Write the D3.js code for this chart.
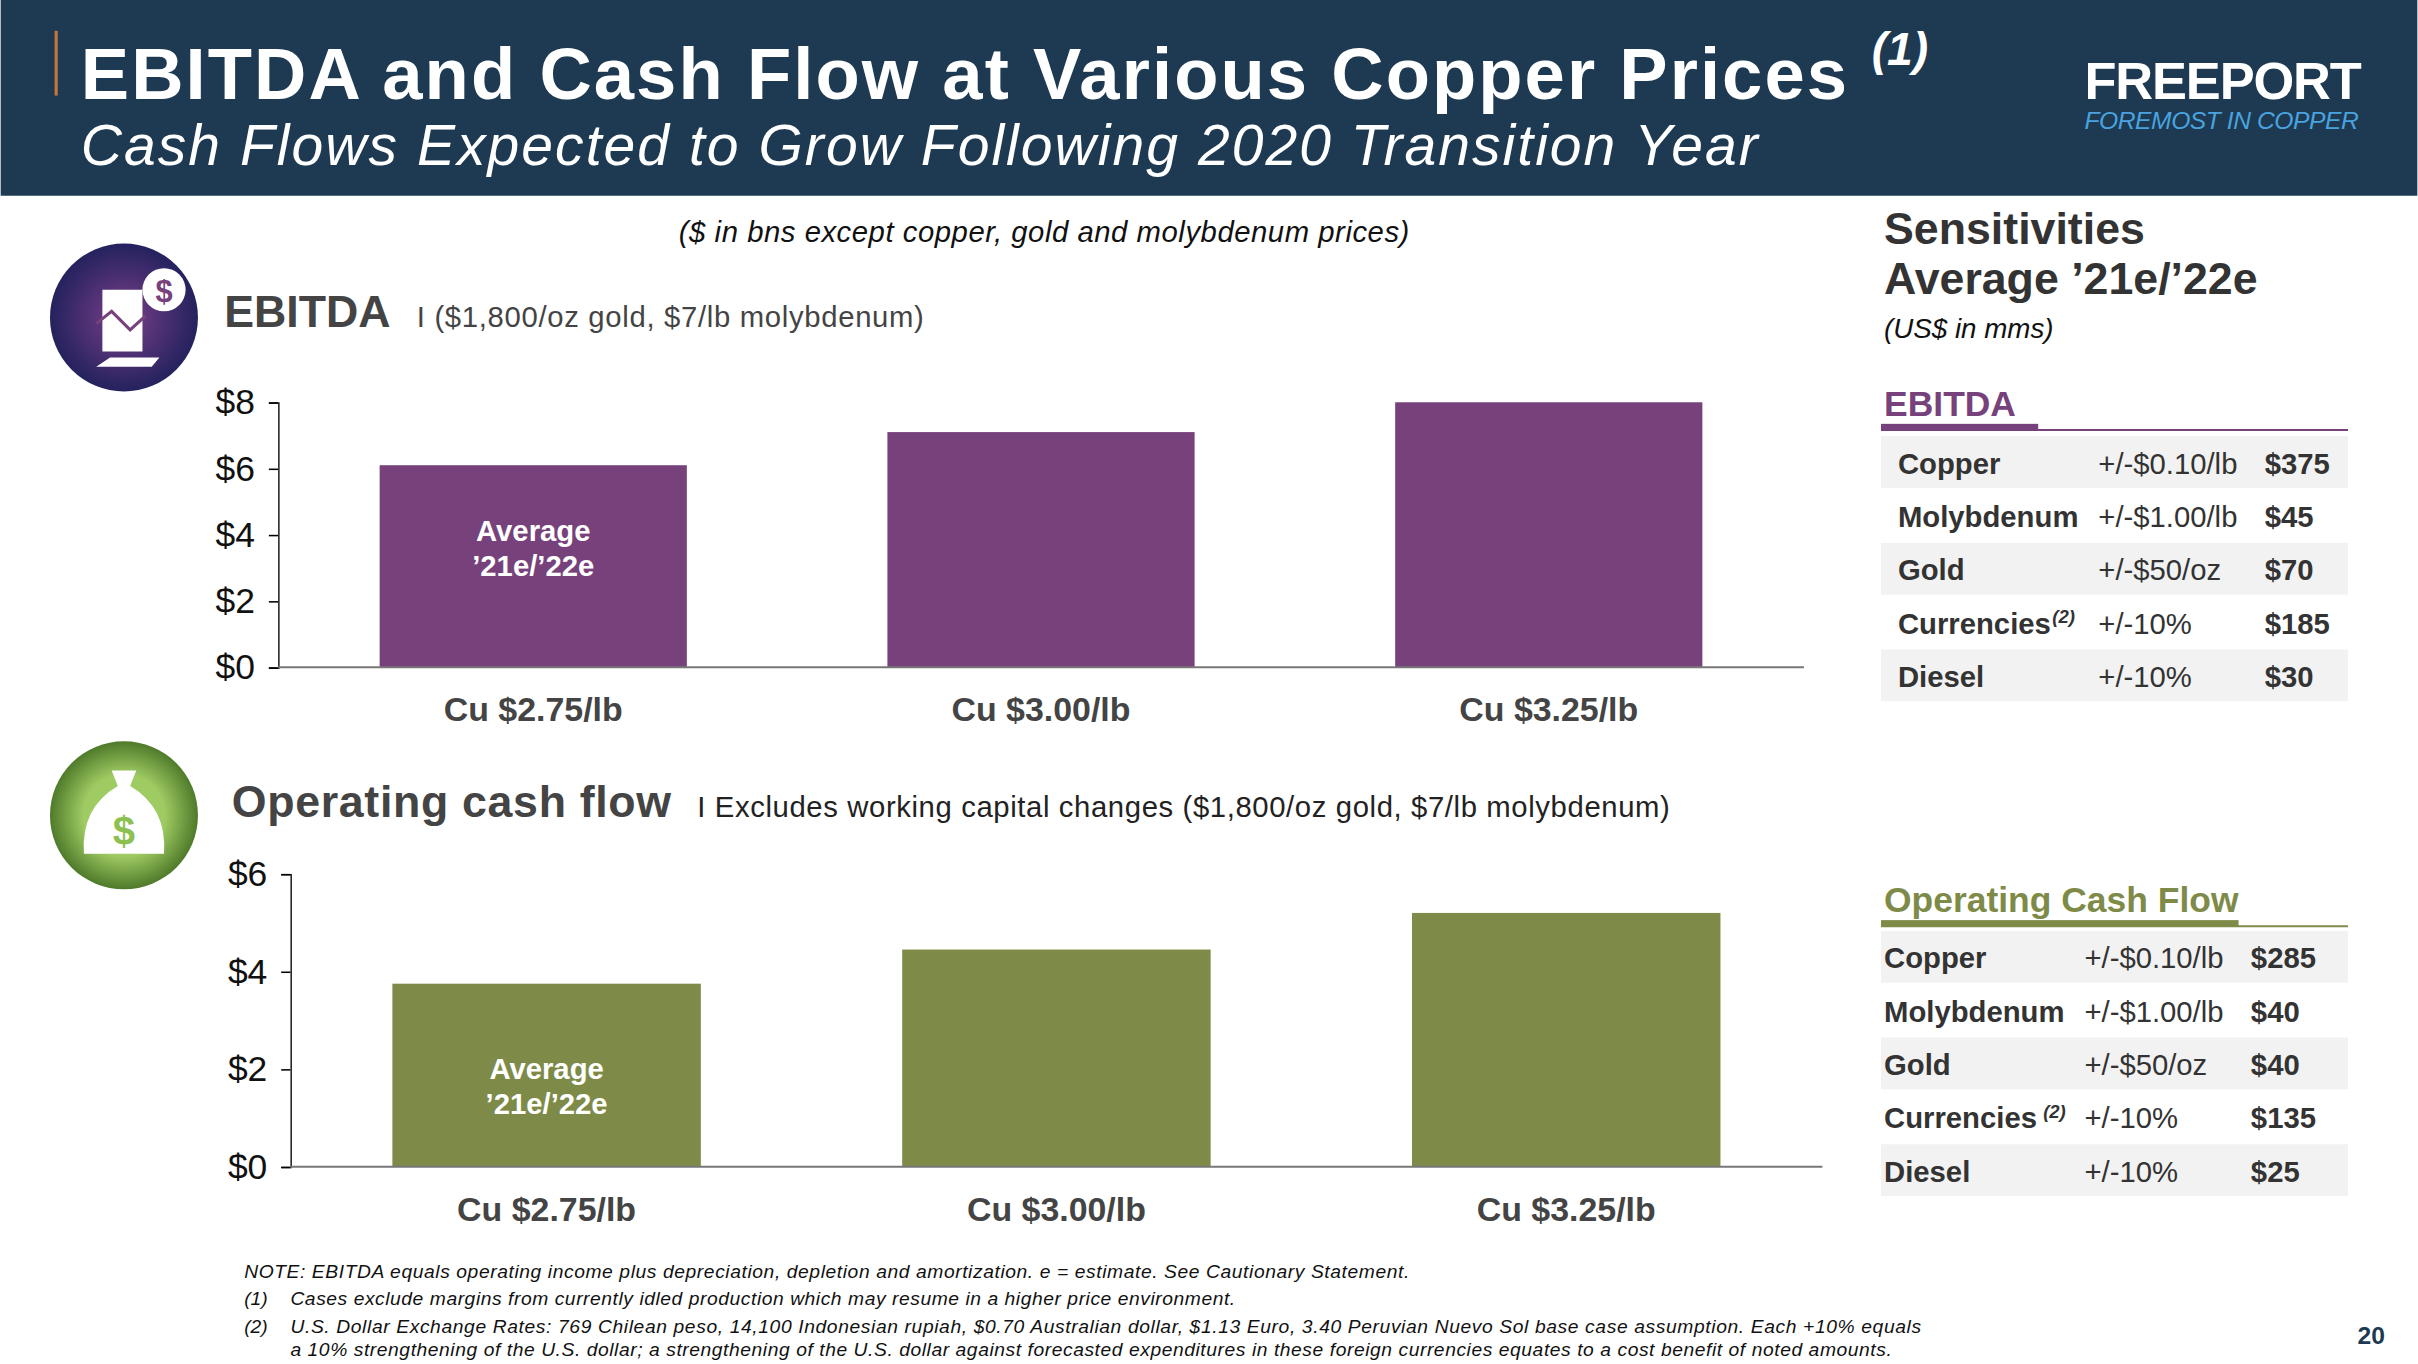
<!DOCTYPE html>
<html><head><meta charset="utf-8">
<script src="https://cdn.jsdelivr.net/npm/d3@7"></script>
<style>
body{margin:0;background:#fff;}
svg{display:block;font-family:"Liberation Sans",Arial,sans-serif;}
</style></head>
<body>
<svg id="chart" width="2418" height="1364" viewBox="0 0 1568 885"></svg>
<script>
// chart data
const categories = ["Cu $2.75/lb", "Cu $3.00/lb", "Cu $3.25/lb"];
const ebitdaValues = [6.1, 7.1, 8.0];
const ocfValues = [3.75, 4.45, 5.2];
const ebitdaTicks = [0, 2, 4, 6, 8];
const ocfTicks = [0, 2, 4, 6];

const ebitdaSens = [
  ["Copper", "+/-$0.10/lb", "$375"],
  ["Molybdenum", "+/-$1.00/lb", "$45"],
  ["Gold", "+/-$50/oz", "$70"],
  ["Currencies", "+/-10%", "$185"],
  ["Diesel", "+/-10%", "$30"]
];
const ocfSens = [
  ["Copper", "+/-$0.10/lb", "$285"],
  ["Molybdenum", "+/-$1.00/lb", "$40"],
  ["Gold", "+/-$50/oz", "$40"],
  ["Currencies", "+/-10%", "$135"],
  ["Diesel", "+/-10%", "$25"]
];

const svg = d3.select("#chart");
const purple = "#77427b", green = "#7e8b48", dark = "#1d3a52";

// header
svg.append("rect").attr("width", 1568).attr("height", 127).attr("fill", dark);
svg.append("rect").attr("x", 35).attr("y", 20).attr("width", 2).attr("height", 42).attr("fill", "#c8773a");
svg.append("text").attr("x", 52).attr("y", 64).attr("fill", "#fff").attr("font-size", 47).attr("font-weight", "bold")
  .attr("textLength", 1146).text("EBITDA and Cash Flow at Various Copper Prices");
svg.append("text").attr("x", 1214).attr("y", 42).attr("fill", "#fff").attr("font-size", 30).attr("font-weight", "bold").attr("font-style", "italic").text("(1)");
svg.append("text").attr("x", 52).attr("y", 107).attr("fill", "#fff").attr("font-size", 37).attr("font-style", "italic")
  .attr("textLength", 1088).text("Cash Flows Expected to Grow Following 2020 Transition Year");
svg.append("text").attr("x", 1352).attr("y", 64).attr("fill", "#fff").attr("font-size", 34).attr("font-weight", "bold")
  .attr("textLength", 180).text("FREEPORT");
svg.append("text").attr("x", 1352).attr("y", 84).attr("fill", "#4aa3df").attr("font-size", 16).attr("font-style", "italic")
  .attr("textLength", 178).text("FOREMOST IN COPPER");

svg.append("text").attr("x", 677).attr("y", 157).attr("text-anchor", "middle").attr("font-size", 19).attr("font-style", "italic")
  .attr("fill", "#111").attr("textLength", 474).text("($ in bns except copper, gold and molybdenum prices)");

// icons
const defs = svg.append("defs");
const g1 = defs.append("radialGradient").attr("id", "gp");
g1.append("stop").attr("offset", "0%").attr("stop-color", "#7a3f8a");
g1.append("stop").attr("offset", "100%").attr("stop-color", "#24225e");
const g2 = defs.append("radialGradient").attr("id", "gg");
g2.append("stop").attr("offset", "55%").attr("stop-color", "#9fcb63");
g2.append("stop").attr("offset", "100%").attr("stop-color", "#4f7a2a");
svg.append("circle").attr("cx", 80).attr("cy", 206).attr("r", 48).attr("fill", "url(#gp)");
svg.append("path").attr("d", "M66 188 h26 v40 h-26 z M62 238 h36 l5 -6 h-32 z").attr("fill", "#fff");
svg.append("polyline").attr("points", "62,210 72,202 84,214 94,205").attr("fill", "none").attr("stroke", purple).attr("stroke-width", 2);
svg.append("circle").attr("cx", 106).attr("cy", 188).attr("r", 14).attr("fill", "#fff");
svg.append("text").attr("x", 106).attr("y", 196).attr("text-anchor", "middle").attr("font-size", 20).attr("font-weight", "bold").attr("fill", purple).text("$");
svg.append("circle").attr("cx", 80).attr("cy", 529).attr("r", 48).attr("fill", "url(#gg)");
svg.append("path").attr("d", "M72 500 h16 l-4 10 q24 14 22 44 h-52 q-2 -30 22 -44 z").attr("fill", "#fff");
svg.append("text").attr("x", 80).attr("y", 548).attr("text-anchor", "middle").attr("font-size", 26).attr("font-weight", "bold").attr("fill", "#8cc152").text("$");

// section titles
svg.append("text").attr("x", 145).attr("y", 212).attr("font-size", 29).attr("font-weight", "bold").attr("fill", "#444").text("EBITDA");
svg.append("text").attr("x", 270).attr("y", 212).attr("font-size", 19).attr("fill", "#444").attr("textLength", 329).text("I ($1,800/oz gold, $7/lb molybdenum)");
svg.append("text").attr("x", 150).attr("y", 530).attr("font-size", 29).attr("font-weight", "bold").attr("fill", "#444").attr("textLength", 285).text("Operating cash flow");
svg.append("text").attr("x", 452).attr("y", 530).attr("font-size", 19).attr("fill", "#222").attr("textLength", 631).text("I Excludes working capital changes ($1,800/oz gold, $7/lb molybdenum)");

function barChart(vals, ticks, left, right, top, bottom, color, catY) {
  const x = d3.scaleBand().domain(categories).range([left, right]).paddingInner(0.395).paddingOuter(0.2);
  const y = d3.scaleLinear().domain([0, d3.max(ticks)]).range([bottom, top]);
  const g = svg.append("g");
  g.selectAll("rect.bar").data(vals).enter().append("rect").attr("class", "bar")
    .attr("x", (d, i) => x(categories[i])).attr("width", x.bandwidth())
    .attr("y", d => y(d)).attr("height", d => bottom - y(d)).attr("fill", color);
  const ax = g.append("g").attr("transform", `translate(${left},0)`)
    .call(d3.axisLeft(y).tickValues(ticks).tickFormat(d => "$" + d).tickSizeOuter(0).tickSize(6));
  ax.selectAll("text").attr("font-size", 23).attr("fill", "#111").attr("dx", -6).attr("font-family", "Liberation Sans, Arial");
  ax.select(".domain").attr("stroke", "#222");
  g.append("line").attr("x1", left).attr("x2", right).attr("y1", bottom).attr("y2", bottom).attr("stroke", "#777").attr("stroke-width", 1.3);
  g.selectAll("text.cat").data(categories).enter().append("text").attr("class", "cat")
    .attr("x", d => x(d) + x.bandwidth() / 2).attr("y", catY).attr("text-anchor", "middle")
    .attr("font-size", 22).attr("font-weight", "bold").attr("fill", "#444").text(d => d);
  const cx = x(categories[0]) + x.bandwidth() / 2;
  return {cx, y};
}
const e = barChart(ebitdaValues, ebitdaTicks, 180, 1170, 261, 433, purple, 468);
svg.append("text").attr("x", e.cx).attr("y", 351).attr("text-anchor", "middle").attr("font-size", 19).attr("font-weight", "bold").attr("fill", "#fff").text("Average");
svg.append("text").attr("x", e.cx).attr("y", 374).attr("text-anchor", "middle").attr("font-size", 19).attr("font-weight", "bold").attr("fill", "#fff").text("’21e/’22e");
const o = barChart(ocfValues, ocfTicks, 188, 1182, 567, 757, green, 792);
svg.append("text").attr("x", o.cx).attr("y", 700).attr("text-anchor", "middle").attr("font-size", 19).attr("font-weight", "bold").attr("fill", "#fff").text("Average");
svg.append("text").attr("x", o.cx).attr("y", 723).attr("text-anchor", "middle").attr("font-size", 19).attr("font-weight", "bold").attr("fill", "#fff").text("’21e/’22e");

// sensitivities panel
svg.append("text").attr("x", 1222).attr("y", 158).attr("font-size", 29).attr("font-weight", "bold").attr("fill", "#333").text("Sensitivities");
svg.append("text").attr("x", 1222).attr("y", 191).attr("font-size", 29).attr("font-weight", "bold").attr("fill", "#333").text("Average ’21e/’22e");
svg.append("text").attr("x", 1222).attr("y", 219).attr("font-size", 18).attr("font-style", "italic").attr("fill", "#111").text("(US$ in mms)");

function sensTable(rows, title, color, headY, ulW, top, cols, supDx) {
  svg.append("text").attr("x", 1222).attr("y", headY).attr("font-size", 23).attr("font-weight", "bold").attr("fill", color).text(title);
  svg.append("rect").attr("x", 1220).attr("y", headY + 5).attr("width", ulW).attr("height", 4).attr("fill", color);
  svg.append("line").attr("x1", 1220).attr("x2", 1523).attr("y1", headY + 9).attr("y2", headY + 9).attr("stroke", color).attr("stroke-width", 1.3);
  const rh = 34.6;
  const g = svg.append("g");
  rows.forEach((r, i) => {
    const y0 = top + i * rh;
    if (i % 2 === 0) g.append("rect").attr("x", 1220).attr("y", y0).attr("width", 303).attr("height", rh - 1).attr("fill", "#f2f2f2");
    const ty = y0 + rh / 2 + 7;
    const t = g.append("text").attr("x", cols[0]).attr("y", ty).attr("font-size", 19).attr("font-weight", "bold").attr("fill", "#333").text(r[0]);
    if (r[0] === "Currencies") t.append("tspan").attr("dx", supDx).attr("dy", -7).attr("font-size", 12).attr("font-style", "italic").text("(2)");
    g.append("text").attr("x", cols[1]).attr("y", ty).attr("font-size", 19).attr("fill", "#333").text(r[1]);
    g.append("text").attr("x", cols[2]).attr("y", ty).attr("font-size", 19).attr("font-weight", "bold").attr("fill", "#333").text(r[2]);
  });
}
sensTable(ebitdaSens, "EBITDA", purple, 270, 102, 283, [1231, 1361, 1469], 1);
sensTable(ocfSens, "Operating Cash Flow", green, 592, 232, 604, [1222, 1352, 1460], 4);

// footnotes
const fn = svg.append("g").attr("font-size", 12.5).attr("font-style", "italic").attr("fill", "#111");
fn.append("text").attr("x", 158).attr("y", 829).attr("textLength", 756).text("NOTE: EBITDA equals operating income plus depreciation, depletion and amortization. e = estimate. See Cautionary Statement.");
fn.append("text").attr("x", 158).attr("y", 847).text("(1)");
fn.append("text").attr("x", 188).attr("y", 847).attr("textLength", 613).text("Cases exclude margins from currently idled production which may resume in a higher price environment.");
fn.append("text").attr("x", 158).attr("y", 865).text("(2)");
fn.append("text").attr("x", 188).attr("y", 865).attr("textLength", 1058).text("U.S. Dollar Exchange Rates: 769 Chilean peso, 14,100 Indonesian rupiah, $0.70 Australian dollar, $1.13 Euro, 3.40 Peruvian Nuevo Sol base case assumption. Each +10% equals");
fn.append("text").attr("x", 188).attr("y", 880).attr("textLength", 1039).text("a 10% strengthening of the U.S. dollar; a strengthening of the U.S. dollar against forecasted expenditures in these foreign currencies equates to a cost benefit of noted amounts.");
svg.append("text").attr("x", 1547).attr("y", 872).attr("text-anchor", "end").attr("font-size", 16).attr("font-weight", "bold").attr("fill", dark).text("20");
</script>
</body></html>
